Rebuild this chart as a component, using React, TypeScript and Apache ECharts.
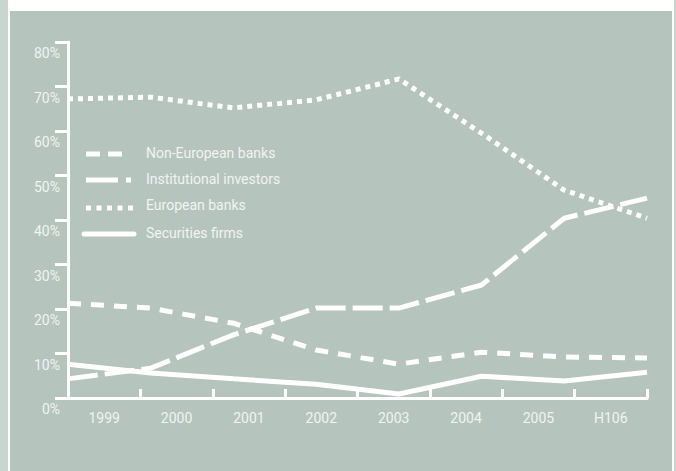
import React, { useEffect, useRef } from "react";
import * as echarts from "echarts";

const categories = ["1999", "2000", "2001", "2002", "2003", "2004", "2005", "H106"];
const pointSlots = ["p1", "p2", "p3", "p4", "p5", "p6", "p7", "p8"];
const nonEuropeanBanks = [21.3, 20.2, 16.8, 10.8, 7.6, 10.3, 9.2, 9.0];
const institutionalInvestors = [4.3, 6.7, 14.2, 20.2, 20.2, 25.4, 40.4, 44.9];
const europeanBanks = [67.2, 67.6, 65.2, 67.0, 71.7, 59.5, 46.7, 40.4];
const securitiesFirms = [7.6, 5.6, 4.3, 3.1, 0.9, 4.9, 3.8, 5.8];
const seriesNames = ["Non-European banks", "Institutional investors", "European banks", "Securities firms"];
const seriesDashes: any[] = [[13, 10], [30, 7], [5, 5], "solid"];

const FONT = "Roboto, 'Liberation Sans', sans-serif";
const TXT = "#f1f4f2";
const PANEL = "#b5c4bd";
const STRIP = "#c9d5cf";

export default function App() {
  const ref = useRef<HTMLDivElement>(null);
  useEffect(() => {
    if (!ref.current) return;
    const chart = echarts.init(ref.current, undefined, { renderer: "svg" });
    const mk = (i: number, data: number[]) => ({
      name: seriesNames[i],
      type: "line",
      xAxisIndex: 1,
      data,
      symbol: "none",
      lineStyle: { color: "#ffffff", width: 5, type: seriesDashes[i], cap: "butt" },
      itemStyle: { color: "#ffffff" },
      z: 3,
    });
    const legendIcons = [
      { x1: 86, x2: 126, y: 154, dash: [14, 8] },
      { x1: 86, x2: 131, y: 180, dash: [32, 8] },
      { x1: 86, x2: 134, y: 208, dash: [5, 5.5] },
      { x1: 84, x2: 134, y: 234, dash: null },
    ];
    const legendTextY = [153, 179, 205, 233];
    const legendGraphics: any[] = [];
    legendIcons.forEach((ic, i) => {
      legendGraphics.push({
        type: "line",
        shape: { x1: ic.x1, y1: ic.y, x2: ic.x2, y2: ic.y },
        style: { stroke: "#ffffff", lineWidth: 5, lineDash: ic.dash || undefined, lineCap: ic.dash ? "butt" : "round" },
        z: 5,
      });
      legendGraphics.push({
        type: "text",
        x: 146,
        y: legendTextY[i],
        style: {
          text: seriesNames[i],
          fill: TXT,
          font: `14px ${FONT}`,
          verticalAlign: "middle",
          align: "left",
        },
        z: 5,
      });
    });
    chart.setOption({
      animation: false,
      backgroundColor: "#ffffff",
      graphic: [
        { type: "rect", shape: { x: 0, y: 0, width: 8, height: 471 }, style: { fill: STRIP }, z: -10 },
        { type: "rect", shape: { x: 674, y: 0, width: 2, height: 471 }, style: { fill: STRIP }, z: -10 },
        { type: "rect", shape: { x: 10, y: 11, width: 662, height: 460 }, style: { fill: PANEL }, z: -10 },
        ...legendGraphics,
      ],
      grid: { left: 68, right: 29, top: 42, bottom: 73 },
      xAxis: [
        {
          type: "category",
          data: categories,
          boundaryGap: true,
          axisLine: { lineStyle: { color: "#ffffff", width: 3 } },
          axisTick: { show: true, inside: true, length: 9, lineStyle: { color: "#ffffff", width: 3 } },
          axisLabel: { color: TXT, fontFamily: FONT, fontSize: 14, margin: 13 },
          splitLine: { show: false },
        },
        {
          type: "category",
          data: pointSlots,
          boundaryGap: false,
          show: false,
        },
      ],
      yAxis: {
        type: "value",
        min: 0,
        max: 80,
        interval: 10,
        axisLine: { show: true, lineStyle: { color: "#ffffff", width: 3 } },
        axisTick: { show: true, length: 13, lineStyle: { color: "#ffffff", width: 3 } },
        axisLabel: {
          color: TXT,
          fontFamily: FONT,
          fontSize: 14,
          margin: 8,
          verticalAlign: "top",
          padding: [4, 0, 0, 0],
          formatter: "{value}%",
        },
        splitLine: { show: false },
      },
      series: [
        mk(0, nonEuropeanBanks),
        mk(1, institutionalInvestors),
        mk(2, europeanBanks),
        mk(3, securitiesFirms),
      ],
    });
    return () => chart.dispose();
  }, []);
  return (
    <div style={{ position: "fixed", left: 0, top: 0, width: 676, height: 471 }}>
      <div ref={ref} style={{ width: 676, height: 471 }} />
    </div>
  );
}
